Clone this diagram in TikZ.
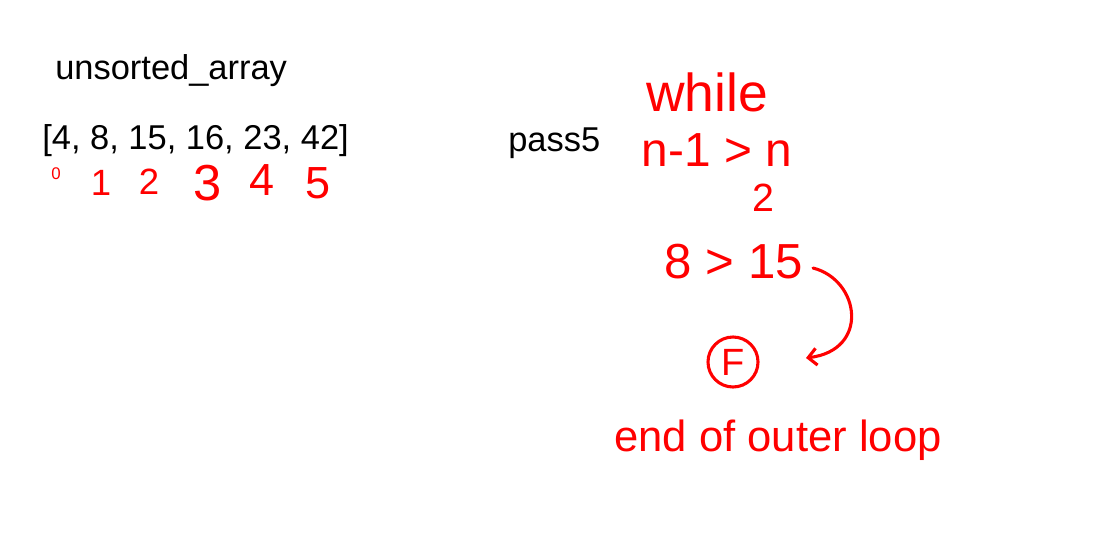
\documentclass[tikz,border=0pt]{standalone}
\usepackage{fontspec}
\setmainfont{Liberation Sans}
\usetikzlibrary{arrows.meta,positioning}

\begin{document}
\begin{tikzpicture}[x=0.025cm,y=-0.025cm,
    typed/.style={text=black, inner sep=0pt, font=\fontsize{24.5}{28}\selectfont},
    ink/.style={text=red, inner sep=0pt}]
  % page
  \useasboundingbox (0,0) rectangle (1103,532);
  % typed text
  \node[typed, anchor=west] (title) at (55,71) {unsorted\_array};
  \node[typed, anchor=west] (arr) at (42,141) {[4, 8, 15, 16, 23, 42]};
  \node[typed, anchor=west] (pass) at (508,143) {pass5};
  % indices under the array
  \node[ink, font=\fontsize{12}{14}\selectfont] (i0) at (56,174) {0};
  \node[ink, font=\fontsize{26}{30}\selectfont] (i1) at (101,183) {1};
  \node[ink, font=\fontsize{26}{30}\selectfont] (i2) at (149,182) {2};
  \node[ink, font=\fontsize{36}{40}\selectfont] (i3) at (208,183) {3};
  \node[ink, font=\fontsize{32}{36}\selectfont] (i4) at (262,180) {4};
  \node[ink, font=\fontsize{32}{36}\selectfont] (i5) at (318,183) {5};
  % loop condition
  \node[ink, font=\fontsize{38}{42}\selectfont] (while) at (707,92) {while};
  \node[ink, font=\fontsize{34}{38}\selectfont] (cond) at (717,150) {n-1 > n};
  \node[ink, font=\fontsize{28}{32}\selectfont] (half) at (763,198) {2};
  \node[ink, font=\fontsize{35}{40}\selectfont] (cmp) at (734,262) {8 > 15};
  % result
  \node[ink, draw=red, line width=2.2pt, circle, minimum size=50*0.025cm,
        font=\fontsize{27}{30}\selectfont] (res) at (733,362) {F};
  \coordinate (tip) at (806,358);
  \draw[red, line width=2.2pt, line cap=round, -{Straight Barb[length=6pt,width=12pt]}]
    (813,268) .. controls (860,280) and (870,350) .. (tip);
  \node[ink, font=\fontsize{31}{36}\selectfont] (endloop) at (778,440) {end of outer loop};
\end{tikzpicture}
\end{document}
